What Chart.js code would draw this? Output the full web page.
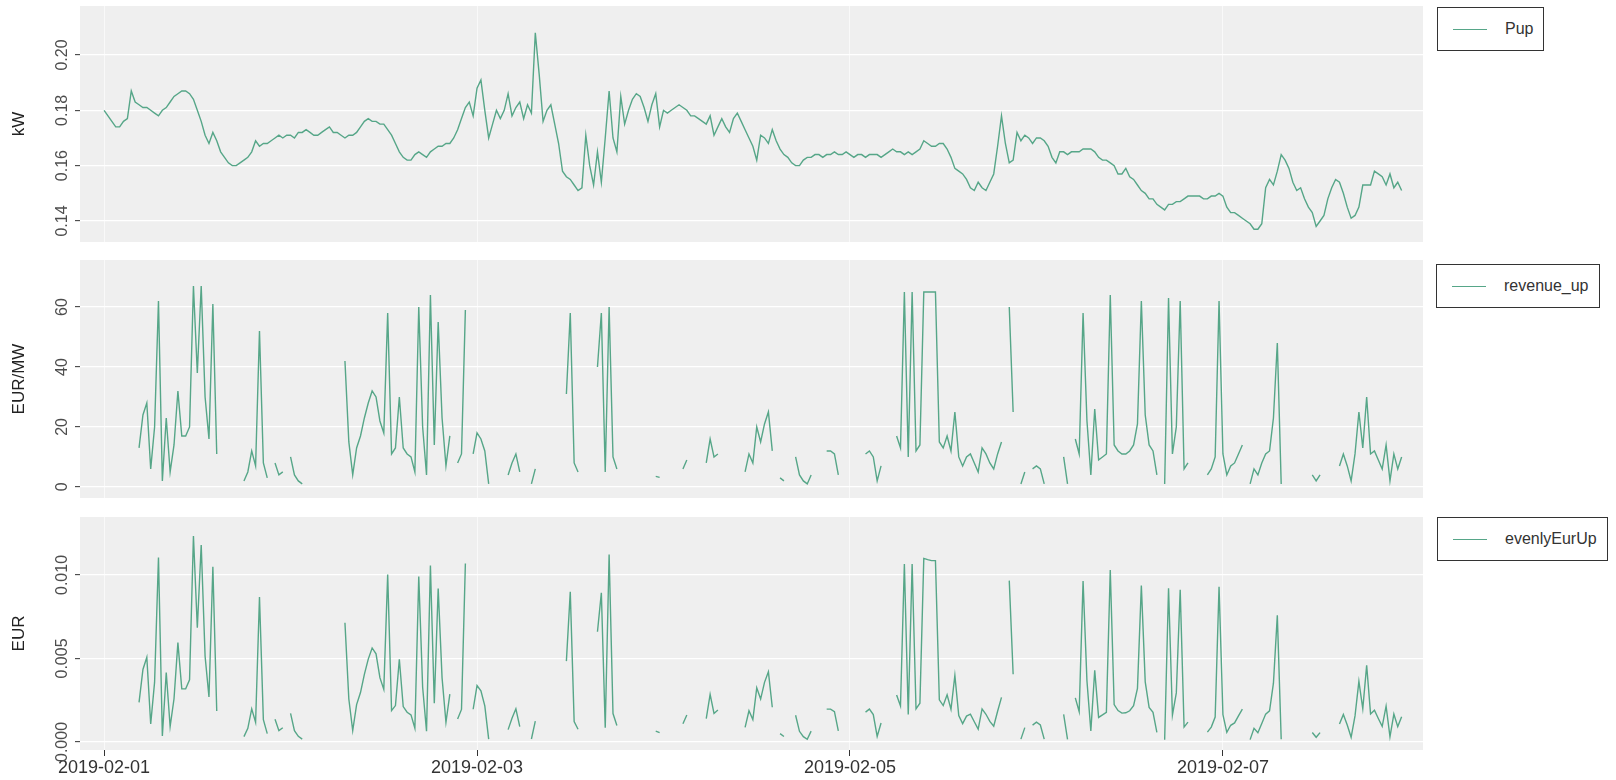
<!DOCTYPE html>
<html>
<head>
<meta charset="utf-8">
<script src="https://cdn.jsdelivr.net/npm/chart.js@4.4.0/dist/chart.umd.min.js"></script>
<style>
  body { margin: 0; background: #fff; width: 1616px; height: 780px; overflow: hidden; position: relative;
         font-family: "Liberation Sans", Arial, sans-serif; }
  canvas.panel { position: absolute; left: 0; }
  .legend { position: absolute; height: 44px; box-sizing: border-box; border: 1px solid #333; background: #fff;
            display: flex; align-items: center; padding: 0 10px 0 15px; font-size: 16px; color: #333; white-space: nowrap; }
  .legend i { display: inline-block; width: 34px; height: 0; border-top: 1.5px solid #56a688; margin-right: 18px; }
</style>
</head>
<body>
<canvas id="c1" class="panel" width="1430" height="244" style="top:0px"></canvas>
<canvas id="c2" class="panel" width="1430" height="246" style="top:254px"></canvas>
<canvas id="c3" class="panel" width="1430" height="269" style="top:511px"></canvas>
<div class="legend" style="left:1437px;top:7px"><i></i>Pup</div>
<div class="legend" style="left:1436px;top:264px"><i></i>revenue_up</div>
<div class="legend" style="left:1437px;top:517px"><i></i>evenlyEurUp</div>
<script>
// readings every 30 min starting 2019-02-01 00:00, x is hours since then
const stepHours = 0.5;
const tickHours = [0, 48, 96, 144];
const tickLabels = ['2019-02-01', '2019-02-03', '2019-02-05', '2019-02-07'];

const pupTicks = [0.14, 0.16, 0.18, 0.20];
const pupTickLabels = ['0.14', '0.16', '0.18', '0.20'];
const revTicks = [0, 20, 40, 60];
const revTickLabels = ['0', '20', '40', '60'];
const eurTicks = [0, 0.005, 0.010];
const eurTickLabels = ['0.000', '0.005', '0.010'];

// kW
const pup = [
  0.180,0.178,0.176,0.174,0.174,0.176,0.177,0.187,0.183,0.182,0.181,0.181, // h0
  0.180,0.179,0.178,0.180,0.181,0.183,0.185,0.186,0.187,0.187,0.186,0.184, // h6
  0.180,0.176,0.171,0.168,0.172,0.169,0.165,0.163,0.161,0.160,0.160,0.161, // h12
  0.162,0.163,0.165,0.169,0.167,0.168,0.168,0.169,0.170,0.171,0.170,0.171, // h18
  0.171,0.170,0.172,0.172,0.173,0.172,0.171,0.171,0.172,0.173,0.174,0.172, // h24
  0.172,0.171,0.170,0.171,0.171,0.172,0.174,0.176,0.177,0.176,0.176,0.175, // h30
  0.175,0.173,0.171,0.168,0.165,0.163,0.162,0.162,0.164,0.165,0.164,0.163, // h36
  0.165,0.166,0.167,0.167,0.168,0.168,0.170,0.173,0.177,0.181,0.183,0.178, // h42
  0.188,0.191,0.180,0.170,0.175,0.180,0.177,0.180,0.186,0.178,0.181,0.183, // h48
  0.177,0.182,0.179,0.208,0.193,0.176,0.180,0.182,0.175,0.168,0.158,0.156, // h54
  0.155,0.153,0.151,0.152,0.171,0.160,0.153,0.165,0.154,0.170,0.187,0.170, // h60
  0.165,0.185,0.175,0.180,0.184,0.186,0.185,0.181,0.176,0.182,0.186,0.174, // h66
  0.180,0.179,0.180,0.181,0.182,0.181,0.180,0.178,0.178,0.177,0.176,0.175, // h72
  0.178,0.171,0.174,0.177,0.174,0.172,0.177,0.179,0.176,0.173,0.170,0.167, // h78
  0.162,0.171,0.170,0.168,0.173,0.169,0.166,0.164,0.163,0.161,0.160,0.160, // h84
  0.162,0.163,0.163,0.164,0.164,0.163,0.164,0.164,0.165,0.164,0.164,0.165, // h90
  0.164,0.163,0.164,0.164,0.163,0.164,0.164,0.164,0.163,0.164,0.165,0.166, // h96
  0.165,0.165,0.164,0.165,0.164,0.165,0.166,0.169,0.168,0.167,0.167,0.168, // h102
  0.168,0.166,0.163,0.159,0.158,0.157,0.155,0.152,0.151,0.154,0.152,0.151, // h108
  0.154,0.157,0.167,0.178,0.168,0.161,0.162,0.172,0.169,0.171,0.170,0.168, // h114
  0.170,0.170,0.169,0.167,0.163,0.161,0.165,0.165,0.164,0.165,0.165,0.165, // h120
  0.166,0.166,0.166,0.165,0.163,0.162,0.162,0.161,0.160,0.157,0.157,0.159, // h126
  0.156,0.155,0.153,0.151,0.150,0.148,0.148,0.146,0.145,0.144,0.146,0.146, // h132
  0.147,0.147,0.148,0.149,0.149,0.149,0.149,0.148,0.148,0.149,0.149,0.150, // h138
  0.149,0.145,0.143,0.143,0.142,0.141,0.140,0.139,0.137,0.137,0.139,0.152, // h144
  0.155,0.153,0.158,0.164,0.162,0.159,0.154,0.151,0.152,0.148,0.145,0.143, // h150
  0.138,0.140,0.142,0.148,0.152,0.155,0.154,0.150,0.145,0.141,0.142,0.145, // h156
  0.153,0.153,0.153,0.158,0.157,0.156,0.153,0.157,0.152,0.154,0.151        // h162
];

// EUR/MW, null = no value
const revenueUp = [
  null,null,null,null,null,null,null,null,null,13,24,28,   // h0
  6,20,62,2,23,5,14,32,17,17,20,67,                         // h6
  38,67,30,16,61,11,null,null,null,null,null,null,          // h12
  2,5,12,7,52,8,3,null,8,4,5,null,                          // h18
  10,4,2,1,null,null,null,null,null,null,null,null,         // h24
  null,null,42,15,4,13,17,23,28,32,30,22,                   // h30
  18,58,11,13,30,13,11,10,5,60,20,4,                        // h36
  64,14,55,23,7,17,null,8,11,59,null,11,                    // h42
  18,16,12,1,null,null,null,null,4,8,11,5,                  // h48
  null,null,1,6,null,null,null,null,null,null,null,31,      // h54
  58,8,5,null,null,null,null,40,58,5,60,10,                 // h60
  6,null,null,null,null,null,null,null,null,null,3.5,3.2,   // h66
  null,null,null,null,null,6,9,null,null,null,null,8,       // h72
  16,10,11,null,null,null,null,null,null,5,11,8,            // h78
  20,15,21,25,12,null,3,2,null,null,10,4,                   // h84
  2,1,4,null,null,null,12,12,11,4,null,null,                // h90
  null,null,null,null,11,12,10,2,7,null,null,null,          // h96
  17,13,65,10,65,12,14,65,65,65,65,15,                      // h102
  13,17,12,25,10,7,10,11,8,5,13,11,                         // h108
  8,6,11,15,null,60,25,null,1,5,null,6,                     // h114
  7,6,1,null,null,null,null,10,1,null,16,11,                // h120
  58,22,4,26,9,10,11,64,14,12,11,11,                        // h126
  12,14,21,62,24,14,12,4,null,1,63,11,                      // h132
  20,62,6,8,null,null,null,null,4,6,10,62,                  // h138
  11,4,7,8,11,14,null,1,6,4,8,11,                           // h144
  12,23,48,1,null,null,null,null,null,null,null,4,          // h150
  2,4,null,null,null,null,7,11,7,2,11,25,                   // h156
  13,30,11,12,9,6,14,2,11,6,10                              // h162
];

// EUR
const evenlyEurUp = [
  null,null,null,null,null,null,null,null,null,0.00237,0.00434,0.00507,                             // h0
  0.00108,0.00358,0.01104,0.00036,0.00416,0.00092,0.00259,0.00595,0.00318,0.00318,0.00372,0.01233,  // h6
  0.00684,0.01179,0.00513,0.00269,0.01049,0.00186,null,null,null,null,null,null,                    // h12
  0.00032,0.00082,0.00198,0.00118,0.00868,0.00134,0.00050,null,0.00136,0.00068,0.00085,null,       // h18
  0.00171,0.00068,0.00034,0.00017,null,null,null,null,null,null,null,null,                          // h24
  null,null,0.00714,0.00257,0.00068,0.00224,0.00296,0.00405,0.00496,0.00563,0.00528,0.00385,        // h30
  0.00315,0.01003,0.00188,0.00218,0.00495,0.00212,0.00178,0.00162,0.00082,0.00990,0.00328,0.00065,  // h36
  0.01056,0.00232,0.00919,0.00384,0.00118,0.00286,null,0.00138,0.00195,0.01068,null,0.00196,        // h42
  0.00338,0.00306,0.00216,0.00017,null,null,null,null,0.00074,0.00142,0.00199,0.00092,              // h48
  null,null,0.00018,0.00125,null,null,null,null,null,null,null,0.00484,                             // h54
  0.00899,0.00122,0.00076,null,null,null,null,0.00660,0.00893,0.00085,0.01122,0.00170,              // h60
  0.00099,null,null,null,null,null,null,null,null,null,0.00065,0.00056,                             // h66
  null,null,null,null,null,0.00109,0.00162,null,null,null,null,0.00140,                             // h72
  0.00285,0.00171,0.00191,null,null,null,null,null,null,0.00087,0.00187,0.00134,                    // h78
  0.00324,0.00257,0.00357,0.00420,0.00208,null,0.00050,0.00033,null,null,0.00160,0.00064,           // h84
  0.00032,0.00016,0.00065,null,null,null,0.00197,0.00197,0.00182,0.00066,null,null,                 // h90
  null,null,null,null,0.00179,0.00197,0.00164,0.00033,0.00114,null,null,null,                       // h96
  0.00281,0.00215,0.01066,0.00165,0.01066,0.00198,0.00232,0.01099,0.01092,0.01086,0.01086,0.00252,  // h102
  0.00218,0.00282,0.00196,0.00398,0.00158,0.00110,0.00155,0.00167,0.00121,0.00077,0.00198,0.00166,  // h108
  0.00123,0.00094,0.00184,0.00267,null,0.00966,0.00405,null,0.00017,0.00086,null,0.00101,           // h114
  0.00119,0.00102,0.00017,null,null,null,null,0.00165,0.00016,null,0.00264,0.00182,                 // h120
  0.00963,0.00365,0.00066,0.00429,0.00147,0.00162,0.00178,0.01030,0.00224,0.00188,0.00173,0.00175,  // h126
  0.00187,0.00217,0.00321,0.00936,0.00360,0.00207,0.00178,0.00058,null,0.00014,0.00920,0.00161,     // h132
  0.00294,0.00911,0.00089,0.00119,null,null,null,null,0.00059,0.00089,0.00149,0.00930,              // h138
  0.00164,0.00058,0.00100,0.00114,0.00156,0.00197,null,0.00014,0.00082,0.00055,0.00111,0.00167,     // h144
  0.00186,0.00352,0.00758,0.00016,null,null,null,null,null,null,null,0.00057,                       // h150
  0.00028,0.00056,null,null,null,null,0.00108,0.00165,0.00102,0.00028,0.00156,0.00363,              // h156
  0.00199,0.00459,0.00168,0.00190,0.00141,0.00094,0.00214,0.00031,0.00167,0.00092,0.00151           // h162
];

const lineColor = '#56a688';
const panelBg = '#efefef';
const font = '"Liberation Sans", Arial, sans-serif';

// grey panel + rotated y tick labels (ggplot style)
const panelPlugin = {
  id: 'panelPlugin',
  beforeDraw(chart) {
    const { ctx, chartArea: a } = chart;
    ctx.save();
    ctx.fillStyle = panelBg;
    ctx.fillRect(a.left, a.top, a.right - a.left, a.bottom - a.top);
    ctx.restore();
  },
  afterDraw(chart, args, opts) {
    const ctx = chart.ctx;
    const y = chart.scales.y;
    ctx.save();
    ctx.fillStyle = '#4d4d4d';
    ctx.font = '16px ' + font;
    ctx.textAlign = 'center';
    ctx.textBaseline = 'alphabetic';
    opts.values.forEach((v, k) => {
      ctx.save();
      ctx.translate(67, y.getPixelForValue(v));
      ctx.rotate(-Math.PI / 2);
      ctx.fillText(opts.labels[k], 0, 0);
      ctx.restore();
    });
    ctx.restore();
  }
};

const makePanel = (id, values, yMin, yMax, yTicks, yLabels, title, showX) => {
  const points = values.map((v, i) => ({ x: i * stepHours, y: v }));
  return new Chart(document.getElementById(id), {
    type: 'line',
    data: {
      datasets: [{
        data: points,
        borderColor: lineColor,
        borderWidth: 1.4,
        pointRadius: 0,
        tension: 0,
        spanGaps: false
      }]
    },
    options: {
      responsive: false,
      animation: false,
      events: [],
      layout: { padding: { top: 6, bottom: 2, left: 0, right: 7 } },
      plugins: {
        legend: { display: false },
        tooltip: { enabled: false },
        panelPlugin: { values: yTicks, labels: yLabels }
      },
      scales: {
        x: {
          type: 'linear',
          min: -3.1,
          max: 169.75,
          afterBuildTicks: s => { s.ticks = tickHours.map(v => ({ value: v })); },
          afterFit: s => { s.height = showX ? 28 : 0; },
          border: { display: false },
          grid: { color: 'rgba(255,255,255,0.6)', lineWidth: 1, drawTicks: showX, tickLength: 6, tickColor: '#333', tickWidth: 1 },
          ticks: {
            display: showX,
            autoSkip: false,
            maxRotation: 0,
            padding: 1,
            color: '#333',
            font: { family: font, size: 18 },
            callback: v => tickLabels[tickHours.indexOf(v)]
          }
        },
        y: {
          type: 'linear',
          min: yMin,
          max: yMax,
          afterBuildTicks: s => { s.ticks = yTicks.map(v => ({ value: v })); },
          afterFit: s => { s.width = 80; },
          border: { display: false },
          grid: { color: '#ffffff', lineWidth: 1.3, drawTicks: true, tickLength: 5, tickColor: '#333', tickWidth: 1 },
          ticks: { display: false },
          title: {
            display: true,
            text: title,
            color: '#222',
            font: { family: font, size: 17 },
            padding: { top: 9, bottom: 0 }
          }
        }
      }
    },
    plugins: [panelPlugin]
  });
};

makePanel('c1', pup, 0.1324, 0.2177, pupTicks, pupTickLabels, 'kW', false);
makePanel('c2', revenueUp, -3.7, 75.7, revTicks, revTickLabels, 'EUR/MW', false);
makePanel('c3', evenlyEurUp, -0.00048, 0.01347, eurTicks, eurTickLabels, 'EUR', true);
</script>
</body>
</html>
